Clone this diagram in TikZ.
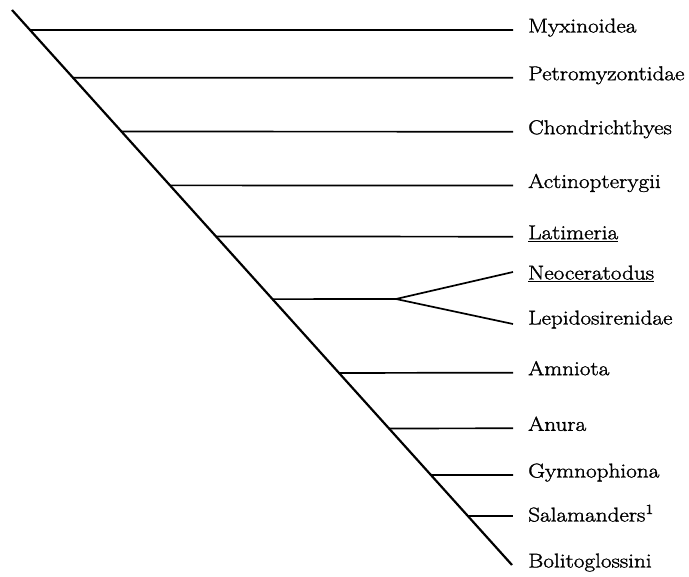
\documentclass[tikz,border=0pt]{standalone}
\usepackage{fontspec}
\setmainfont{Latin Modern Roman}[FakeStretch=1.16, FakeBold=1.5]
\usepackage{tikz}
\usetikzlibrary{calc, positioning}

\tikzset{
  taxon/.style={anchor=west, inner sep=0pt, text height=0.7em, text depth=0.2em,
                font=\fontsize{20}{22}\selectfont},
  branch/.style={line width=1.7pt},
  stem/.style={line width=2.2pt}
}

\begin{document}
\begin{tikzpicture}[x=1pt, y=-1pt]
            \useasboundingbox (0,0) rectangle (689,577);

            % Main stem
            \coordinate (root) at (12,10);
            \coordinate (tip) at (512,565);
            \draw[stem] (root) -- (tip);

            % Branch points on the stem
            \coordinate (b1) at ($(root)!0.036!(tip)$);
            \coordinate (b2) at ($(root)!0.122!(tip)$);
            \coordinate (b3) at ($(root)!0.219!(tip)$);
            \coordinate (b4) at ($(root)!0.316!(tip)$);
            \coordinate (b5) at ($(root)!0.408!(tip)$);
            \coordinate (b6) at ($(root)!0.521!(tip)$);
            \coordinate (b7) at ($(root)!0.654!(tip)$);
            \coordinate (b8) at ($(root)!0.754!(tip)$);
            \coordinate (b9) at ($(root)!0.838!(tip)$);
            \coordinate (b10) at ($(root)!0.912!(tip)$);

            % Taxa
            \node[taxon] (myx) at (528,30) {Myxinoidea};
            \node[taxon] (pet) at (528,77.7) {Petromyzontidae};
            \node[taxon] (cho) at (528,131.7) {Chondrichthyes};
            \node[taxon] (act) at (528,185.5) {Actinopterygii};
            \node[taxon] (lat) at (528,236.7) {\underline{Latimeria}};
            \node[taxon] (neo) at (528,277) {\underline{Neoceratodus}};
            \node[taxon] (lep) at (528,322) {Lepidosirenidae};
            \node[taxon] (amn) at (528,372.7) {Amniota};
            \node[taxon] (anu) at (528,428.3) {Anura};
            \node[taxon] (gym) at (528,475) {Gymnophiona};
            \node[taxon] (sal) at (528,519) {Salamanders\textsuperscript{1}};
            \node[taxon] (bol) at (528,565) {Bolitoglossini};

            % Horizontal branches
            \draw[branch] (b1) -- ([xshift=-15pt]myx.west);
            \draw[branch] (b2) -- ([xshift=-15pt]pet.west);
            \draw[branch] (b3) -- ([xshift=-15pt]cho.west);
            \draw[branch] (b4) -- ([xshift=-15pt]act.west);
            \draw[branch] (b5) -- ([xshift=-15pt]lat.west);
            \draw[branch] (b7) -- ([xshift=-15pt]amn.west);
            \draw[branch] (b8) -- ([xshift=-15pt]anu.west);
            \draw[branch] (b9) -- ([xshift=-15pt]gym.west);
            \draw[branch] (b10) -- ([xshift=-15pt]b10 -| sal.west);

            % Lungfish fork
            \coordinate (fork) at (396,299);
            \coordinate (neoend) at (513,272);
            \coordinate (lepend) at (513,324);
            \draw[branch] (b6) -- (fork);
            \draw[branch] (neoend) -- (fork) -- (lepend);
        \end{tikzpicture}
\end{document}
